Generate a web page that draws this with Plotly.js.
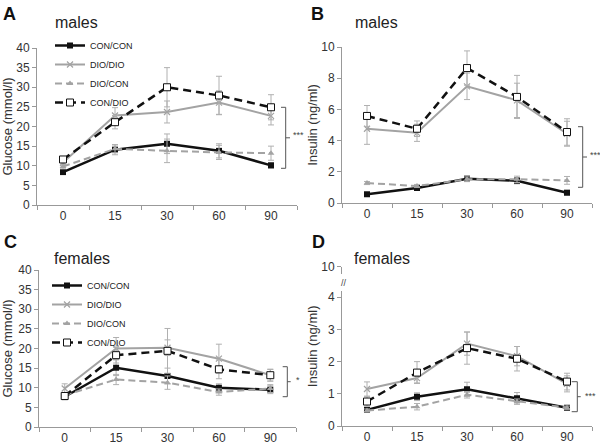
<!DOCTYPE html>
<html><head><meta charset="utf-8">
<script src="https://cdn.plot.ly/plotly-3.0.1.min.js"></script>
<style>html,body{margin:0;padding:0;background:#fff}#chart{width:600px;height:445px}</style>
</head><body><div id="chart"></div>
<script>
const times = ['0','15','30','60','90'];
const seriesNames = ['CON/CON','DIO/DIO','DIO/CON','CON/DIO'];

// Panel A: males, glucose (mmol/l)
const A_conCon = [8.4, 14.1, 15.6, 13.8, 10.1];
const A_conCon_se = [0.7, 1.3, 2.5, 1.8, 0.7];
const A_dioDio = [10.8, 22.8, 23.7, 26.1, 22.7];
const A_dioDio_se = [0.8, 2.0, 2.8, 3.0, 2.3];
const A_dioCon = [9.8, 14.3, 13.8, 13.4, 13.2];
const A_dioCon_se = [0.6, 1.0, 3.0, 1.8, 1.8];
const A_conDio = [11.6, 21.1, 30.0, 27.9, 24.9];
const A_conDio_se = [0.6, 1.7, 5.0, 4.9, 3.2];

// Panel B: males, insulin (ng/ml)
const B_conCon = [0.56, 0.96, 1.56, 1.43, 0.66];
const B_conCon_se = [0.1, 0.1, 0.15, 0.2, 0.15];
const B_dioDio = [4.76, 4.5, 7.48, 6.58, 4.44];
const B_dioDio_se = [1.0, 0.55, 0.85, 1.1, 0.8];
const B_dioCon = [1.28, 1.09, 1.52, 1.52, 1.45];
const B_dioCon_se = [0.1, 0.1, 0.15, 0.2, 0.25];
const B_conDio = [5.58, 4.76, 8.65, 6.8, 4.55];
const B_conDio_se = [0.67, 0.5, 1.1, 1.38, 0.85];

// Panel C: females, glucose (mmol/l)
const C_conCon = [7.7, 15.1, 13.0, 10.0, 9.5];
const C_conCon_se = [0.8, 2.0, 2.0, 1.0, 1.0];
const C_dioDio = [9.8, 20.0, 20.2, 17.4, 13.2];
const C_dioDio_se = [1.2, 2.8, 2.0, 3.7, 1.5];
const C_dioCon = [8.1, 12.1, 11.3, 8.9, 9.8];
const C_dioCon_se = [0.6, 1.3, 1.7, 0.8, 1.0];
const C_conDio = [7.9, 18.3, 19.4, 14.7, 13.2];
const C_conDio_se = [0.8, 2.0, 5.7, 2.4, 1.5];

// Panel D: females, insulin (ng/ml)
const D_conCon = [0.5, 0.91, 1.14, 0.86, 0.57];
const D_conCon_se = [0.06, 0.12, 0.22, 0.18, 0.05];
const D_dioDio = [1.15, 1.49, 2.56, 2.17, 1.31];
const D_dioDio_se = [0.22, 0.15, 0.36, 0.3, 0.25];
const D_dioCon = [0.48, 0.6, 0.97, 0.76, 0.57];
const D_dioCon_se = [0.05, 0.1, 0.1, 0.08, 0.05];
const D_conDio = [0.76, 1.66, 2.42, 2.09, 1.38];
const D_conDio_se = [0.15, 0.34, 0.5, 0.38, 0.26];

const W = 600, H = 445;
const px = x => x / W;
const py = y => 1 - y / H;
const FONT = 'Liberation Sans, Arial, Helvetica, sans-serif';
const GRAY = '#a3a3a3';
const ERR = '#b0b0b0';

const styles = [
  {line:{color:'#111', width:2.5, dash:'solid'}, marker:{symbol:'square', size:6, color:'#111'}},
  {line:{color:GRAY, width:2, dash:'solid'}, marker:{symbol:'x-thin-open', size:6, color:GRAY, line:{color:GRAY, width:1.2}}},
  {line:{color:GRAY, width:2, dash:'7px,4px'}, marker:{symbol:'triangle-up', size:6, color:GRAY}},
  {line:{color:'#111', width:2.5, dash:'8px,5px'}, marker:{symbol:'square', size:7, color:'#fff', line:{color:'#111', width:1}}}
];

const traces = [];
function addPanel(vals, ses, xa, ya, legendName) {
  vals.forEach((v, i) => {
    traces.push({
      type:'scatter', mode:'lines+markers', x: times, y: v, name: seriesNames[i],
      xaxis: xa, yaxis: ya, line: styles[i].line, marker: styles[i].marker,
      error_y: {type:'data', array: ses[i], visible:true, color: ERR, thickness:1, width:3},
      showlegend: !!legendName, legend: legendName || 'legend', hoverinfo:'skip'
    });
  });
}
addPanel([A_conCon, A_dioDio, A_dioCon, A_conDio], [A_conCon_se, A_dioDio_se, A_dioCon_se, A_conDio_se], 'x', 'y', 'legend');
addPanel([B_conCon, B_dioDio, B_dioCon, B_conDio], [B_conCon_se, B_dioDio_se, B_dioCon_se, B_conDio_se], 'x2', 'y2', null);
addPanel([C_conCon, C_dioDio, C_dioCon, C_conDio], [C_conCon_se, C_dioDio_se, C_dioCon_se, C_conDio_se], 'x3', 'y3', 'legend2');
addPanel([D_conCon, D_dioDio, D_dioCon, D_conDio], [D_conCon_se, D_dioDio_se, D_dioCon_se, D_conDio_se], 'x4', 'y4', null);

function xax(x0, x1, anchor) {
  return {domain:[px(x0), px(x1)], anchor, type:'category', range:[-0.5, 4.5],
    tickson:'boundaries', ticks:'outside', ticklen:4, tickcolor:'#999',
    showline:true, linecolor:'#999', linewidth:1, showgrid:false, zeroline:false,
    tickfont:{size:12, color:'#333', family:FONT}, fixedrange:true};
}
function yax(yTop, yBot, anchor, range, dtick, title, standoff) {
  return {domain:[py(yBot), py(yTop)], anchor, range, dtick, tick0:0,
    ticks:'outside', ticklen:4, tickcolor:'#999',
    showline:true, linecolor:'#999', linewidth:1, showgrid:false, zeroline:false,
    tickfont:{size:12, color:'#333', family:FONT}, fixedrange:true,
    title: {text:title, font:{size:13, color:'#333', family:FONT}, standoff}};
}

const shapes = [];
function ln(x0, y0, x1, y1) {
  shapes.push({type:'line', xref:'paper', yref:'paper', x0:px(x0), y0:py(y0), x1:px(x1), y1:py(y1),
    line:{color:'#555', width:1}});
}
function bracket(x, yTop, yBot, xLeft, xMid) {
  ln(xLeft, yTop, x, yTop);
  ln(x, yTop, x, yBot);
  ln(xLeft, yBot, x, yBot);
  ln(x, (yTop + yBot) / 2, xMid, (yTop + yBot) / 2);
}
bracket(285.7, 107.3, 168.3, 281, 290);
bracket(582.7, 126.7, 187.3, 578, 587);
bracket(287.3, 366.7, 396.7, 282.7, 290.7);
bracket(577.3, 381.7, 411.7, 571.7, 580.7);
// axis break mask on panel D
shapes.push({type:'rect', xref:'paper', yref:'paper', x0:px(340), x1:px(346), y0:py(291), y1:py(274),
  fillcolor:'#fff', line:{width:0}});

const annotations = [];
function txt(text, x, y, size, opts) {
  annotations.push(Object.assign({text, xref:'paper', yref:'paper', x:px(x), y:py(y),
    xanchor:'left', yanchor:'middle', showarrow:false,
    font:{size, color:'#222', family:FONT}}, opts || {}));
}
txt('<b>A</b>', 1, 14, 18, {font:{size:18, color:'#111', family:FONT}});
txt('<b>B</b>', 309, 14, 18, {font:{size:18, color:'#111', family:FONT}});
txt('<b>C</b>', 2, 242, 18, {font:{size:18, color:'#111', family:FONT}});
txt('<b>D</b>', 310, 242, 18, {font:{size:18, color:'#111', family:FONT}});
txt('males', 53, 23, 16);
txt('males', 353, 23, 16);
txt('females', 52, 258, 16);
txt('females', 352, 258, 16);
txt('***', 291, 135, 9, {font:{size:9, color:'#444', family:FONT}});
txt('***', 588, 155, 9, {font:{size:9, color:'#444', family:FONT}});
txt('*', 294, 380, 9, {font:{size:9, color:'#444', family:FONT}});
txt('***', 583, 396, 9, {font:{size:9, color:'#444', family:FONT}});
txt('//', 339, 283, 9, {font:{size:9, color:'#444', family:FONT}});

const legendBase = {orientation:'v', bgcolor:'rgba(0,0,0,0)', borderwidth:0,
  font:{size:9, color:'#222', family:FONT}, xanchor:'left', yanchor:'top', tracegroupgap:0, itemwidth:30};

const layout = {
  width:W, height:H, margin:{l:0, r:0, t:0, b:0},
  paper_bgcolor:'#fff', plot_bgcolor:'rgba(0,0,0,0)',
  font:{family:FONT, color:'#333'},
  xaxis: xax(37, 297, 'y'),
  yaxis: yax(48, 205, 'x', [0, 40], 5, 'Glucose (mmol/l)', 4),
  xaxis2: xax(342, 592, 'y2'),
  yaxis2: yax(47, 203, 'x2', [0, 10], 2, 'Insulin (ng/ml)', 0),
  xaxis3: xax(39, 296, 'y3'),
  yaxis3: yax(270, 427, 'x3', [0, 40], 5, 'Glucose (mmol/l)', 4),
  xaxis4: xax(342, 592, 'y4'),
  yaxis4: Object.assign(yax(266.7, 426, 'x4', [0, 4.95], 1, 'Insulin (ng/ml)', 0),
    {tickmode:'array', tickvals:[0,1,2,3,4,4.95], ticktext:['0','1','2','3','4','10']}),
  legend: Object.assign({}, legendBase, {x:px(50), y:py(31)}),
  legend2: Object.assign({}, legendBase, {x:px(47), y:py(271)}),
  shapes, annotations, showlegend:true
};

Plotly.newPlot('chart', traces, layout, {staticPlot:true, displayModeBar:false});
</script></body></html>
